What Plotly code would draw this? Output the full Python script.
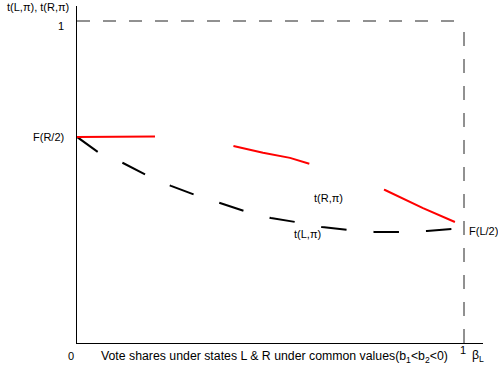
import plotly.graph_objects as go

# Black dashed curve t(L, pi)
share_L = [0, 0.0336, 0.0543, 0.1189, 0.1783, 0.2429, 0.3049, 0.3695, 0.4315,
           0.5013, 0.5633, 0.6331, 0.7003, 0.7674, 0.8346, 0.9044, 0.9690]
t_L = [0.640, 0.612, 0.593, 0.559, 0.522, 0.488, 0.460, 0.435, 0.410,
       0.388, 0.376, 0.360, 0.351, 0.345, 0.345, 0.348, 0.354]

# Red long-dashed curve t(R, pi)
share_R = [0, 0.2016, 0.4031, 0.4806, 0.5504, 0.6021, 0.7959, 0.8941, 0.9819]
t_R = [0.640, 0.641, 0.612, 0.591, 0.575, 0.556, 0.475, 0.419, 0.373]

# Reference lines at value 1
ref_h_x = [0, 1]
ref_h_y = [1, 1]
ref_v_x = [1, 1]
ref_v_y = [0, 1]

W, H = 498, 377
ML, MR, MT, MB = 77, 15, 6, 34
X_MAX = 1.0491
Y_MAX = 1.0466
FONT = "Liberation Sans, Arial, sans-serif"


def px(x):
    return (x - ML) / (W - ML - MR)


def py(y):
    return (H - MB - y) / (H - MT - MB)


fig = go.Figure()
fig.add_trace(go.Scatter(x=ref_h_x, y=ref_h_y, mode="lines",
                         line=dict(color="#222222", width=1, dash="13px,13px"),
                         hoverinfo="skip"))
fig.add_trace(go.Scatter(x=ref_v_x, y=ref_v_y, mode="lines",
                         line=dict(color="#222222", width=1, dash="14px,13px"),
                         hoverinfo="skip"))
fig.add_trace(go.Scatter(x=share_L, y=t_L, mode="lines",
                         line=dict(color="black", width=2, dash="25.5px,27px"),
                         name="t(L,π)"))
fig.add_trace(go.Scatter(x=share_R, y=t_R, mode="lines",
                         line=dict(color="#ff0000", width=2, dash="78px,79px"),
                         name="t(R,π)"))

ann_font = dict(family=FONT, size=11, color="black")
big_font = dict(family=FONT, size=12.3, color="black")
annotations = [
    dict(text="t(L,π), t(R,π)", x=px(71), y=py(7), xanchor="right"),
    dict(text="1", x=px(66), y=py(26), xanchor="right"),
    dict(text="F(R/2)", x=px(66), y=py(137), xanchor="right"),
    dict(text="0", x=px(71), y=py(356), xanchor="center"),
    dict(text="Vote shares under states L &amp; R under common values(b<sub>1</sub>&lt;b<sub>2</sub>&lt;0)",
         x=px(274), y=py(357), xanchor="center", font=big_font),
    dict(text="1", x=px(463), y=py(350), xanchor="center"),
    dict(text="β<sub>L</sub>", x=px(470), y=py(356), xanchor="left", font=big_font),
    dict(text="t(R,π)", x=px(312), y=py(198), xanchor="left"),
    dict(text="t(L,π)", x=px(292), y=py(234), xanchor="left"),
    dict(text="F(L/2)", x=px(467), y=py(231), xanchor="left"),
]
for a in annotations:
    a.setdefault("font", ann_font)
    a.update(xref="paper", yref="paper", yanchor="middle", showarrow=False)

axis_common = dict(showline=True, linecolor="black", linewidth=1, showgrid=False,
                   zeroline=False, ticks="inside", ticklen=4, tickcolor="black",
                   tickwidth=1, showticklabels=False, fixedrange=True)

fig.update_layout(
    width=W, height=H,
    margin=dict(l=ML, r=MR, t=MT, b=MB),
    paper_bgcolor="white", plot_bgcolor="white",
    showlegend=False,
    xaxis=dict(range=[0, X_MAX], tickvals=[X_MAX - 0.001], **axis_common),
    yaxis=dict(range=[0, Y_MAX], tickvals=[Y_MAX - 0.001], **axis_common),
    annotations=annotations,
    font=dict(family=FONT, size=11, color="black"),
)

fig.write_html("out.html", post_script="document.body.style.margin='0';",
               config={"displayModeBar": False})
